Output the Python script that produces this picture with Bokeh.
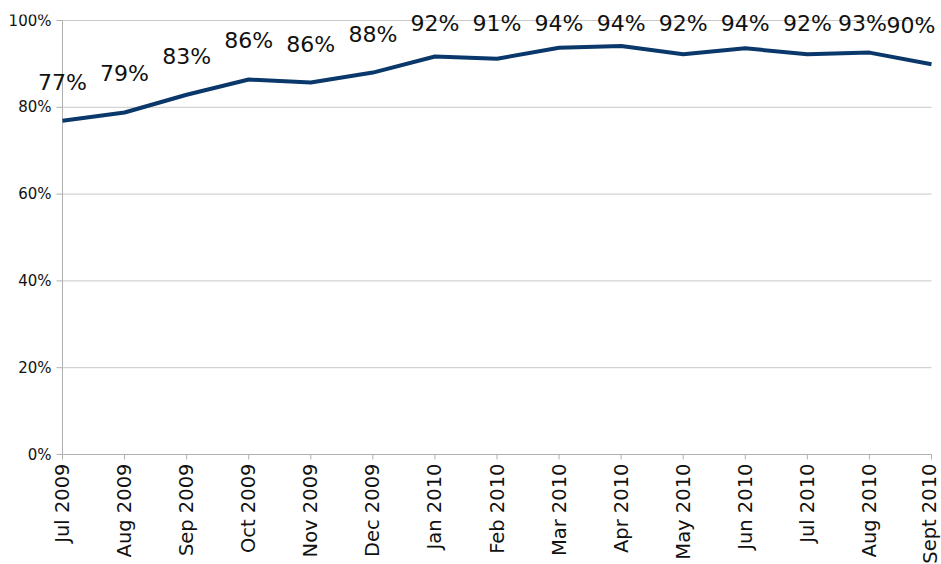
from bokeh.plotting import figure
from bokeh.models import ColumnDataSource, Range1d, FixedTicker
from bokeh.core.properties import value
from bokeh.embed import file_html
from bokeh.resources import INLINE

months = ["Jul 2009", "Aug 2009", "Sep 2009", "Oct 2009", "Nov 2009", "Dec 2009",
          "Jan 2010", "Feb 2010", "Mar 2010", "Apr 2010", "May 2010", "Jun 2010",
          "Jul 2010", "Aug 2010", "Sept 2010"]
values = [76.9, 78.8, 82.9, 86.4, 85.7, 88.0, 91.7, 91.2, 93.7, 94.1, 92.2, 93.6, 92.2, 92.6, 89.9]
labels = ["77%", "79%", "83%", "86%", "86%", "88%", "92%", "91%", "94%", "94%",
          "92%", "94%", "92%", "93%", "90%"]
y_ticks = [0, 20, 40, 60, 80, 100]
y_tick_labels = ["0%", "20%", "40%", "60%", "80%", "100%"]

# layout (pixels)
plot_w, plot_h = 869, 434              # data area: first to last month, 0% to 100%
pad_l, pad_r, pad_t, pad_b = 62, 10, 6, 8
n = len(months)
x_per_px = (n - 1) / plot_w
y_per_px = 100 / plot_h

xs = list(range(n))
label_y = [min(v + 6.0, 96.5) for v in values]
# data labels near the right edge are nudged inwards so that they stay inside the chart
label_align = ["center"] * (n - 1) + ["right"]
label_dx = [0] * (n - 2) + [-7, 4]
src = ColumnDataSource(dict(x=xs, y=values, ly=label_y, txt=labels,
                            al=label_align, dx=label_dx))

p = figure(output_backend="svg", toolbar_location=None,
           x_range=Range1d(-pad_l * x_per_px, (n - 1) + pad_r * x_per_px),
           y_range=Range1d(-pad_b * y_per_px, 100 + pad_t * y_per_px),
           frame_width=plot_w + pad_l + pad_r, frame_height=plot_h + pad_t + pad_b,
           min_border_left=0, min_border_right=0, min_border_top=20 - pad_t, min_border_bottom=0)
p.outline_line_color = None
p.background_fill_color = "white"
p.xgrid.grid_line_color = None
p.ygrid.grid_line_color = None

axis_col = "#b0b0b0"
grid_col = "#c8c8c8"

# horizontal gridlines (from the y axis to the last month)
grid_y = y_ticks[1:]
p.segment(x0=[0] * len(grid_y), y0=grid_y, x1=[n - 1] * len(grid_y), y1=grid_y,
          line_color=grid_col, line_width=1)
# y tick marks (outward)
p.segment(x0=[-6 * x_per_px] * len(y_ticks), y0=y_ticks, x1=[0] * len(y_ticks), y1=y_ticks,
          line_color=axis_col, line_width=1)
# x tick marks (outward)
p.segment(x0=xs, y0=[0] * n, x1=xs, y1=[-5 * y_per_px] * n,
          line_color=axis_col, line_width=1)
# axis lines
p.segment(x0=[0, 0], y0=[y_ticks[0], y_ticks[0]], x1=[0, n - 1], y1=[y_ticks[-1], y_ticks[0]],
          line_color=axis_col, line_width=1)
# y tick labels
p.text(x=[0] * len(y_ticks), y=y_ticks, text=y_tick_labels, x_offset=-11,
       text_align="right", text_baseline="middle", text_font=value("DejaVu Sans"),
       text_font_size="15px", text_color="#111111")

p.line("x", "y", source=src, line_color="#0a386b", line_width=4)

p.text(x="x", y="ly", text="txt", source=src, text_align="al", x_offset="dx",
       text_baseline="bottom", text_font=value("DejaVu Sans"), text_font_size="22px",
       text_color="#111111")

p.yaxis.visible = False

p.xaxis.ticker = FixedTicker(ticks=xs)
p.xaxis.major_label_overrides = {i: m for i, m in enumerate(months)}
p.xaxis.major_label_orientation = 1.5708
p.xaxis.major_label_text_font = "DejaVu Sans"
p.xaxis.major_label_text_font_size = "19.5px"
p.xaxis.major_label_text_color = "#111111"
p.xaxis.major_label_standoff = 1
p.xaxis.major_tick_out = 0
p.xaxis.major_tick_in = 0
p.xaxis.minor_tick_line_color = None
p.xaxis.axis_line_color = None
p.xaxis.major_tick_line_color = None

open("out.html", "w").write(file_html(p, INLINE))
